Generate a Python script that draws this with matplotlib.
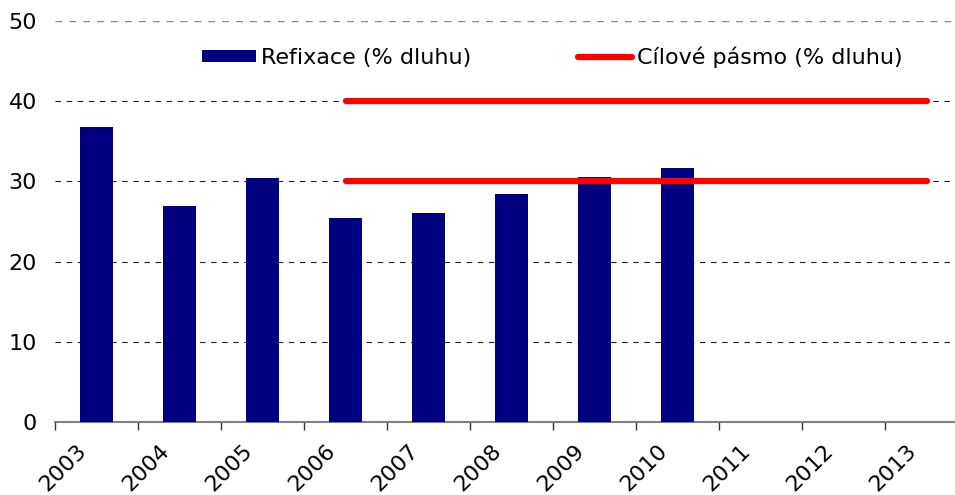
import numpy as np
import matplotlib
matplotlib.use("Agg")
import matplotlib.pyplot as plt
import matplotlib.transforms as mtransforms

# data
years = ['2003', '2004', '2005', '2006', '2007', '2008', '2009', '2010', '2011', '2012', '2013']
refixace = [36.8, 26.9, 30.4, 25.4, 26.1, 28.4, 30.5, 31.7]
band_years = ['2006', '2013']
band_low = 30
band_high = 40

plt.rcParams['font.family'] = ['DejaVu Sans']
plt.rcParams['font.size'] = 16

fig = plt.figure(figsize=(9.55, 4.95), dpi=100)
ax = fig.add_axes([55 / 955, 1 - 422 / 495, 913 / 955, 401 / 495])

x = np.arange(len(years))
bars = ax.bar(x[:len(refixace)], refixace, width=0.4, color='#000080', zorder=3,
              label='Refixace (% dluhu)')

# target band, drawn from first to last year of band
bx = [years.index(band_years[0]), years.index(band_years[1])]
line, = ax.plot(bx, [band_high, band_high], color='#ff0000', lw=4.5,
                solid_capstyle='round', zorder=4, label='Cílové pásmo (% dluhu)')
ax.plot(bx, [band_low, band_low], color='#ff0000', lw=4.5, solid_capstyle='round',
        zorder=4)

ax.set_xlim(-0.5, len(years) - 0.5)
ax.set_ylim(0, 50)
ax.set_yticks([0, 10, 20, 30, 40, 50])
ax.tick_params(axis='y', length=0, pad=13, labelsize=16)

# tick marks between categories, labels at centers
ax.set_xticks(np.arange(len(years) + 1) - 0.5)
ax.set_xticklabels([])
ax.set_xticks(x, minor=True)
ax.set_xticklabels(years, minor=True, rotation=45, ha='right', va='top',
                   rotation_mode='anchor', fontsize=16)
ax.tick_params(axis='x', which='major', length=6, width=1, color='#333333', direction='out')
ax.tick_params(axis='x', which='minor', length=0, pad=14)
offset = mtransforms.ScaledTranslation(-20 / 100, 1 / 100, fig.dpi_scale_trans)
for lab in ax.get_xticklabels(minor=True):
    lab.set_transform(lab.get_transform() + offset)

for v in [10, 20, 30, 40]:
    ax.axhline(v, color='#222222', lw=0.8, dashes=(5, 5), zorder=1)
ax.axhline(50, color='#888888', lw=1, dashes=(5, 5), zorder=1)

for s in ['top', 'right', 'left']:
    ax.spines[s].set_visible(False)
ax.spines['bottom'].set_color('#808080')
ax.spines['bottom'].set_linewidth(1.5)

ax.legend([bars, line], ['Refixace (% dluhu)', 'Cílové pásmo (% dluhu)'],
          loc='center', bbox_to_anchor=(0.545, 0.91), ncol=2, frameon=False,
          fontsize=16, handlelength=2.4, handleheight=0.5, handletextpad=0.25,
          columnspacing=4.8)

fig.savefig('out.png', dpi=100)
